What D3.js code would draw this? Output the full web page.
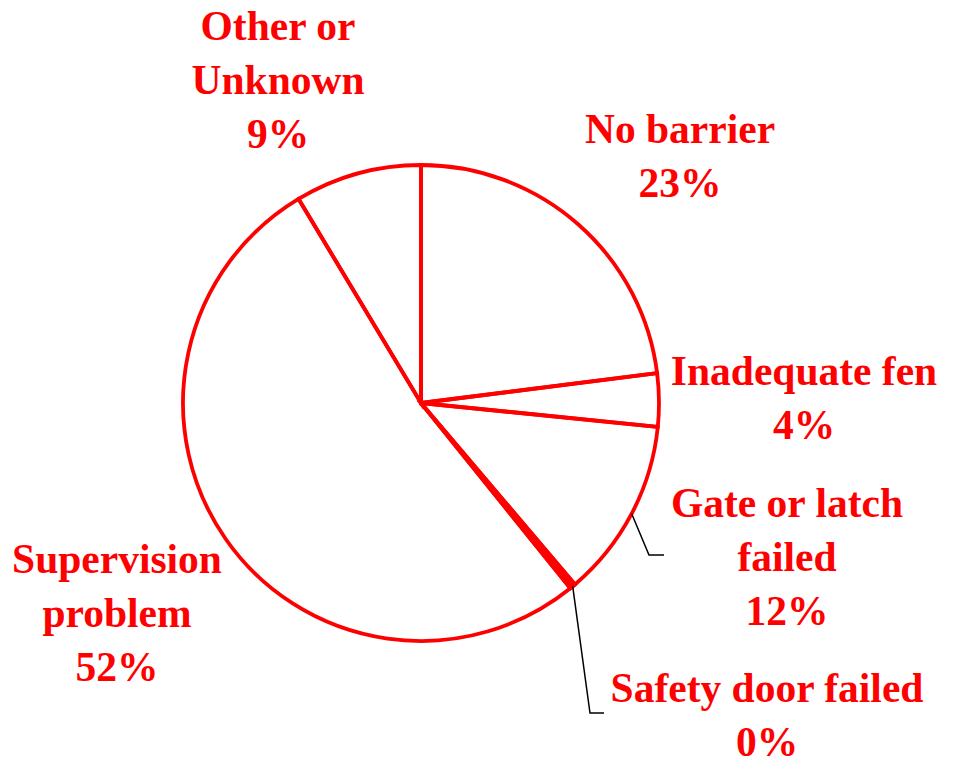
<!DOCTYPE html>
<html>
<head>
<meta charset="utf-8">
<script src="https://cdn.jsdelivr.net/npm/d3@7/dist/d3.min.js"></script>
<style>
  body { margin: 0; background: #fff; }
  svg { display: block; }
  .lbl { font-family: "Liberation Serif", "Times New Roman", serif; font-weight: bold; font-size: 41.5px; fill: #ff0000; }
</style>
</head>
<body>
<div id="chart"></div>
<script>
// slice data (share of total), clockwise from 12 o'clock
var categories = ["No barrier", "Inadequate fen", "Gate or latch failed", "Safety door failed", "Supervision problem", "Other or Unknown"];
var values = [0.230, 0.036, 0.122, 0.004, 0.522, 0.086];
var labelLines = [["No barrier"], ["Inadequate fen"], ["Gate or latch", "failed"], ["Safety door failed"], ["Supervision", "problem"], ["Other or", "Unknown"]];

var width = 956, height = 761;
var cx = 421, cy = 403, radius = 238;
var edge = 3.8;

// label anchor (center, first baseline) relative to pie center
var labelAt = [[259, -260], [383, -18], [366, 114], [346, 299], [-304, 170], [-143, -363]];
// leader elbows for labels sitting away from their slice (null = none)
var leaders = [null, null, [[228, 152], [243, 152]], [[169, 310], [183, 310]], null, null];

var svg = d3.select("#chart").append("svg")
    .attr("width", width)
    .attr("height", height);

var g = svg.append("g").attr("transform", "translate(" + cx + "," + cy + ")");

var pie = d3.pie().sort(null).value(function(d) { return d; });
var arcs = pie(values);

var arc = d3.arc().innerRadius(0).outerRadius(radius);

// fills first, then the red outlines on top so thin slivers stay solid
g.selectAll("path.fill")
    .data(arcs)
  .enter().append("path")
    .attr("class", "fill")
    .attr("d", arc)
    .attr("fill", function(d) {
      return (d.endAngle - d.startAngle) * radius < edge * 2 ? "#ff0000" : "#fff";
    });

g.selectAll("path.edge")
    .data(arcs)
  .enter().append("path")
    .attr("class", "edge")
    .attr("d", arc)
    .attr("fill", "none")
    .attr("stroke", "#ff0000")
    .attr("stroke-width", edge)
    .attr("stroke-linejoin", "miter");

var fmt = d3.format(".0%");

// leader lines
arcs.forEach(function(a, i) {
  if (!leaders[i]) return;
  var mid = (a.startAngle + a.endAngle) / 2;
  var p0 = [radius * Math.sin(mid), -radius * Math.cos(mid)];
  g.append("path")
    .attr("d", d3.line()([p0].concat(leaders[i])))
    .attr("fill", "none")
    .attr("stroke", "#000")
    .attr("stroke-width", 1.5);
});

// labels
arcs.forEach(function(a, i) {
  var lines = labelLines[i].concat([fmt(a.data)]);
  var t = g.append("text")
    .attr("class", "lbl")
    .attr("text-anchor", "middle")
    .attr("x", labelAt[i][0])
    .attr("y", labelAt[i][1]);
  lines.forEach(function(s, k) {
    t.append("tspan")
      .attr("x", labelAt[i][0])
      .attr("dy", k === 0 ? 0 : 54)
      .text(s);
  });
});
</script>
</body>
</html>
